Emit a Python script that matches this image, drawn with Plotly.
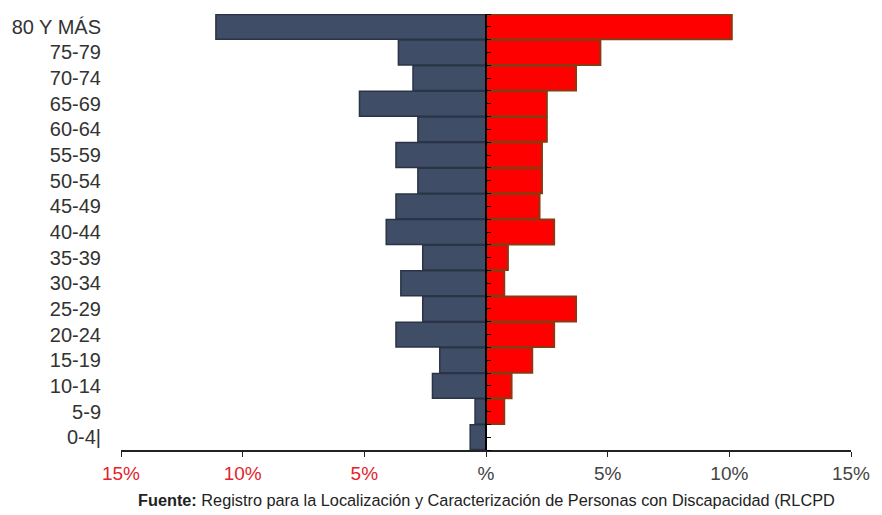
import plotly.graph_objects as go

categories = ["80 Y MÁS", "75-79", "70-74", "65-69", "60-64", "55-59", "50-54",
              "45-49", "40-44", "35-39", "30-34", "25-29", "20-24", "15-19",
              "10-14", "5-9", "0-4|"]
hombres = [11.1, 3.6, 3.0, 5.2, 2.8, 3.7, 2.8, 3.7, 4.1, 2.6, 3.5, 2.6, 3.7, 1.9, 2.2, 0.45, 0.65]
mujeres = [10.1, 4.7, 3.7, 2.5, 2.5, 2.3, 2.3, 2.2, 2.8, 0.9, 0.75, 3.7, 2.8, 1.9, 1.05, 0.75, 0.0]
tick_vals = [-15, -10, -5, 0, 5, 10, 15]
tick_text = ["15%", "10%", "5%", "%", "5%", "10%", "15%"]

cats_plot = categories[::-1]
h_plot = [-v for v in hombres[::-1]]
m_plot = mujeres[::-1]

fig = go.Figure()
fig.add_trace(go.Bar(y=cats_plot, x=h_plot, orientation="h", name="Hombres",
                     marker=dict(color="#3f4d66", line=dict(color="#2a3446", width=1.5)),
                     showlegend=False))
fig.add_trace(go.Bar(y=cats_plot, x=m_plot, orientation="h", name="Mujeres",
                     marker=dict(color="#ff0000", line=dict(color="#8a3a12", width=2)),
                     showlegend=False))
# helper trace for the central axis
fig.add_trace(go.Scatter(x=[0], y=[0], yaxis="y2", mode="markers",
                         marker=dict(opacity=0), hoverinfo="skip", showlegend=False))

colored = []
for v, t in zip(tick_vals, tick_text):
    c = "#e2242c" if v < 0 else "#444444"
    colored.append(f'<span style="color:{c}">{t}</span>')

fig.update_layout(
    width=882, height=515,
    margin=dict(l=121, r=22, t=14, b=65),
    paper_bgcolor="white", plot_bgcolor="white",
    barmode="relative", bargap=0.03,
    font=dict(family="Liberation Sans, Arial, sans-serif", color="#333333"),
    xaxis=dict(range=[-15, 15], tickvals=tick_vals, ticktext=colored,
               showgrid=False, zeroline=False, showline=True, linecolor="#222222",
               linewidth=1.5, ticks="outside", ticklen=5, tickcolor="#222222",
               tickfont=dict(size=19, family="Liberation Sans, Arial"),
               fixedrange=True),
    yaxis=dict(range=[-0.5, 16.5], showgrid=False, zeroline=False, showline=False,
               ticks="", ticklabelstandoff=19,
               tickfont=dict(size=20, color="#333333",
                             family="Liberation Sans, Arial")),
    yaxis2=dict(overlaying="y", anchor="free", position=0.5, side="right",
                range=[-0.5, 16.5], dtick=0.5, tick0=-0.5, showticklabels=False,
                showgrid=False, zeroline=False, showline=True, linecolor="#000000",
                linewidth=2, ticks="outside", ticklen=4, tickcolor="#000000"),
    annotations=[dict(text="<b>Fuente:</b> Registro para la Localización y Caracterización de Personas con Discapacidad (RLCPD",
                      x=0.5, xref="paper", y=-0.09, yref="paper", yanchor="top",
                      showarrow=False,
                      font=dict(size=16.3, color="#222222",
                                family="Liberation Sans, Arial"))],
)

fig.write_html("out.html")
